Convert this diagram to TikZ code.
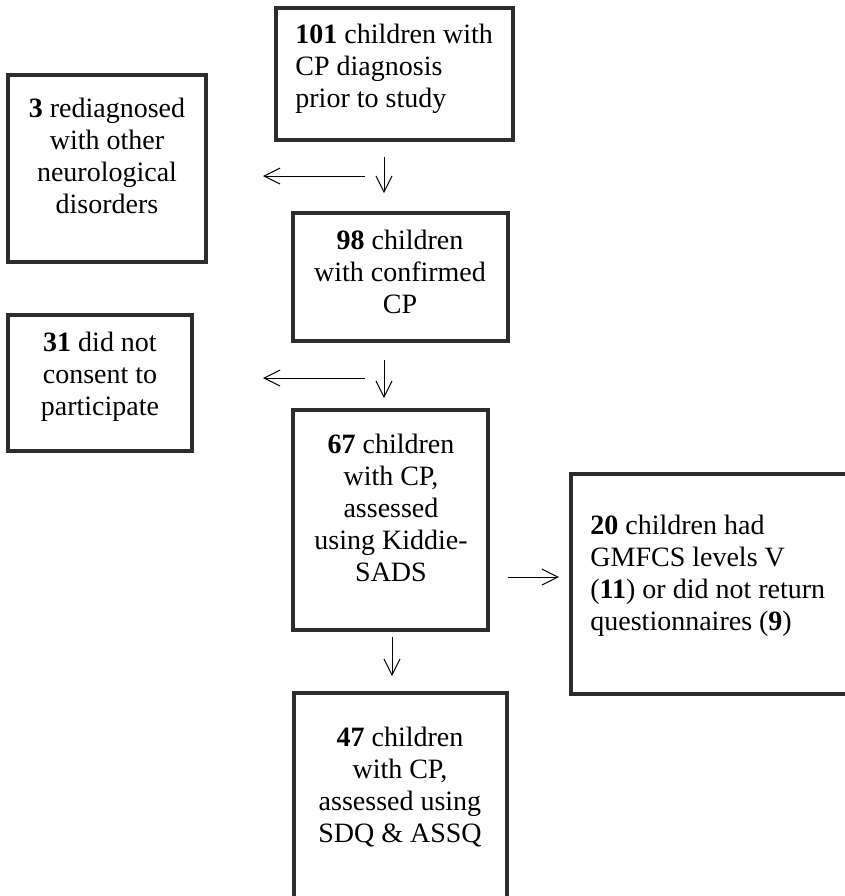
\documentclass[tikz,border=0pt]{standalone}
\usepackage{fontspec}
\setmainfont{Liberation Serif}
\usetikzlibrary{arrows.meta}
\definecolor{boxgray}{RGB}{45,45,45}
\tikzset{
    box/.style={draw=boxgray,line width=1.75pt,inner sep=0pt},
    txt/.style={inner sep=0pt,font=\fontsize{14}{16}\selectfont},
    arr/.style={line width=0.5pt,-{Straight Barb[length=8pt,width=8pt,line width=0.5pt]}}
}
\begin{document}
\begin{tikzpicture}[x=0.5pt,y=-0.5pt]
        \useasboundingbox (0,0) rectangle (845,896);
        \clip (0,0) rectangle (845,896);

        \node[box,minimum width=118.5pt,minimum height=66pt] (b101) at (394.5,74) {};
        \node[box,minimum width=99pt,minimum height=93.5pt] (b3) at (107,168.5) {};
        \node[box,minimum width=107.5pt,minimum height=64pt] (b98) at (400.5,277) {};
        \node[box,minimum width=92pt,minimum height=68pt] (b31) at (100,383) {};
        \node[box,minimum width=97.5pt,minimum height=110pt] (b67) at (390.5,520) {};
        \node[box,minimum width=144.5pt,minimum height=110pt] (b20) at (715.5,584) {};
        \node[box,minimum width=106.5pt,minimum height=108.5pt] (b47) at (400.5,801.5) {};

        \node[txt,anchor=base west,align=left] (t101) at (295,107)
            {\textbf{101} children with\\CP diagnosis\\prior to study};
        \node[txt,anchor=base,align=center] (t3) at (107,213)
            {\textbf{3} rediagnosed\\with other\\neurological\\disorders};
        \node[txt,anchor=base,align=center] (t98) at (400,313)
            {\textbf{98} children\\with confirmed\\CP};
        \node[txt,anchor=base,align=center] (t31) at (100,415)
            {\textbf{31} did not\\consent to\\participate};
        \node[txt,anchor=base,align=center] (t67) at (391,581)
            {\textbf{67} children\\with CP,\\assessed\\using Kiddie-\\SADS};
        \node[txt,anchor=base west,align=left] (t20) at (590,630)
            {\textbf{20} children had\\GMFCS levels V\\(\textbf{11}) or did not return\\questionnaires (\textbf{9})};
        \node[txt,anchor=base,align=center] (t47) at (400,842)
            {\textbf{47} children\\with CP,\\assessed using\\SDQ \& ASSQ};

        \coordinate (l1s) at (365,176);
        \coordinate (l1e) at (263,176);
        \coordinate (d1s) at (384,157);
        \coordinate (d1e) at (384,193);
        \coordinate (l2s) at (365,378);
        \coordinate (l2e) at (263,378);
        \coordinate (d2s) at (384,360);
        \coordinate (d2e) at (384,398);
        \coordinate (rs) at (508,577);
        \coordinate (re) at (559,577);
        \coordinate (d3s) at (392,637);
        \coordinate (d3e) at (392,676);

        \draw[arr] (l1s) -- (l1e);
        \draw[arr] (d1s) -- (d1e);
        \draw[arr] (l2s) -- (l2e);
        \draw[arr] (d2s) -- (d2e);
        \draw[arr] (rs) -- (re);
        \draw[arr] (d3s) -- (d3e);
    \end{tikzpicture}
\end{document}
